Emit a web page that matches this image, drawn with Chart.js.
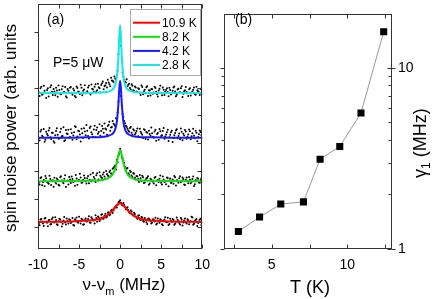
<!DOCTYPE html>
<html>
<head>
<meta charset="utf-8">
<script src="https://cdn.jsdelivr.net/npm/chart.js@4.4.1/dist/chart.umd.min.js"></script>
<style>
  html, body { margin: 0; padding: 0; background: #fff; }
  #wrap { position: relative; width: 436px; height: 299px; }
  .pane { position: absolute; top: 0; width: 218px; height: 299px; }
</style>
</head>
<body>
<div id="wrap">
  <div class="pane" style="left:0"><canvas id="chartA" width="218" height="299"></canvas></div>
  <div class="pane" style="left:218px"><canvas id="chartB" width="218" height="299"></canvas></div>
</div>
<script>
// ---- panel (a): spin noise spectra, offset vertically ----
const tempLabels = ['10.9 K', '8.2 K', '4.2 K', '2.8 K'];
const fitColors = ['#ff0000', '#11dd11', '#1a1aff', '#19e6e6'];

// frequency grids (MHz): -10..10 every 0.2, and the in-between points -9.9..9.9
const freq = [];
for (let i = 0; i <= 100; i++) freq.push(+(-10 + 0.2 * i).toFixed(1));
const freq2 = [];
for (let i = 0; i < 100; i++) freq2.push(+(-9.9 + 0.2 * i).toFixed(1));

const dots109 = [
  0.22,0.05,0.28,0.12,0.30,0.18,0.02,0.25,0.10,0.33,
  0.15,0.24,0.06,0.29,0.19,0.11,0.35,0.08,0.21,0.27,
  0.13,0.31,0.04,0.23,0.17,0.36,0.12,0.26,0.09,0.30,
  0.20,0.38,0.14,0.29,0.22,0.41,0.18,0.33,0.26,0.45,
  0.30,0.47,0.36,0.52,0.44,0.61,0.58,0.72,0.69,0.88,
  0.95,
  0.80,0.85,0.71,0.66,0.60,0.48,0.55,0.40,0.46,0.33,
  0.39,0.27,0.35,0.21,0.31,0.16,0.28,0.24,0.12,0.27,
  0.19,0.08,0.30,0.14,0.23,0.05,0.26,0.17,0.32,0.10,
  0.21,0.28,0.07,0.18,0.25,0.13,0.31,0.04,0.22,0.16,
  0.27,0.09,0.20,0.33,0.11,0.24,0.03,0.19,0.29,0.14
];
const dots109b = [
  0.11,0.26,0.19,0.03,0.31,0.14,0.23,0.08,0.28,0.17,
  0.34,0.09,0.20,0.26,0.01,0.22,0.15,0.30,0.12,0.24,
  0.18,0.06,0.27,0.33,0.14,0.21,0.29,0.07,0.24,0.19,
  0.28,0.15,0.34,0.24,0.12,0.31,0.37,0.21,0.43,0.29,
  0.39,0.33,0.50,0.41,0.57,0.49,0.66,0.74,0.79,0.91,
  0.86,0.76,0.79,0.63,0.70,0.52,0.58,0.44,0.50,0.37,
  0.29,0.41,0.23,0.33,0.18,0.26,0.10,0.30,0.20,0.15,
  0.25,0.32,0.12,0.20,0.27,0.09,0.22,0.34,0.16,0.06,
  0.29,0.17,0.24,0.11,0.33,0.20,0.08,0.26,0.15,0.30,
  0.12,0.23,0.18,0.36,0.07,0.21,0.28,0.13,0.25,0.06
];
const dots82 = [
  1.70,1.52,1.78,1.60,1.45,1.74,1.58,1.83,1.50,1.67,
  1.76,1.55,1.69,1.48,1.81,1.62,1.72,1.43,1.66,1.79,
  1.57,1.71,1.64,1.86,1.51,1.68,1.77,1.59,1.84,1.63,
  1.74,1.56,1.88,1.67,1.79,1.61,1.92,1.70,1.83,1.75,
  1.95,1.72,1.89,1.81,2.02,1.90,2.12,2.20,2.41,2.55,
  2.80,
  2.49,2.38,2.15,2.09,1.92,2.01,1.84,1.93,1.76,1.82,
  1.71,1.86,1.64,1.78,1.59,1.73,1.81,1.55,1.69,1.62,
  1.76,1.49,1.68,1.72,1.58,1.80,1.61,1.53,1.75,1.66,
  1.57,1.70,1.82,1.48,1.65,1.74,1.60,1.77,1.52,1.69,
  1.63,1.79,1.56,1.71,1.46,1.67,1.75,1.59,1.68,1.61
];
const dots82b = [
  1.58,1.75,1.49,1.68,1.82,1.61,1.54,1.71,1.65,1.44,
  1.62,1.73,1.51,1.78,1.66,1.56,1.85,1.64,1.52,1.70,
  1.80,1.60,1.47,1.73,1.66,1.90,1.58,1.69,1.75,1.55,
  1.82,1.69,1.63,1.93,1.72,1.85,1.66,1.96,1.78,1.88,
  1.80,2.00,1.84,1.97,1.91,2.08,2.15,2.06,2.32,2.62,
  2.70,2.45,2.30,2.02,2.11,1.88,1.97,1.79,1.90,1.70,
  1.80,1.61,1.74,1.83,1.57,1.68,1.76,1.51,1.72,1.64,
  1.55,1.79,1.66,1.60,1.84,1.52,1.70,1.63,1.77,1.45,
  1.73,1.62,1.54,1.78,1.67,1.58,1.81,1.64,1.71,1.50,
  1.77,1.56,1.69,1.62,1.80,1.53,1.65,1.72,1.58,1.74
];
const dots42 = [
  3.35,3.10,3.48,3.22,3.05,3.41,3.28,3.55,3.15,3.38,
  3.02,3.44,3.30,3.18,3.52,3.26,3.08,3.47,3.33,3.20,
  3.50,3.12,3.39,3.58,3.24,3.43,3.06,3.36,3.54,3.29,
  3.45,3.17,3.60,3.32,3.49,3.21,3.56,3.40,3.27,3.62,
  3.38,3.53,3.30,3.66,3.45,3.58,3.70,3.62,3.85,4.50,
  5.10,
  4.35,3.95,3.72,3.58,3.46,3.55,3.38,3.50,3.31,3.44,
  3.25,3.52,3.36,3.19,3.47,3.40,3.13,3.33,3.56,3.23,
  3.42,3.09,3.37,3.51,3.26,3.44,3.16,3.31,3.48,3.21,
  3.39,3.04,3.29,3.46,3.18,3.35,3.53,3.11,3.28,3.42,
  3.23,3.49,3.14,3.36,3.27,3.45,3.07,3.32,3.40,3.19
];
const dots42b = [
  3.18,3.42,3.27,3.51,3.12,3.33,3.46,3.21,3.38,3.07,
  3.29,3.54,3.16,3.40,3.25,3.57,3.11,3.35,3.48,3.22,
  3.37,3.28,3.61,3.14,3.45,3.31,3.52,3.19,3.42,3.65,
  3.26,3.55,3.39,3.23,3.63,3.47,3.34,3.68,3.44,3.52,
  3.71,3.49,3.62,3.77,3.56,3.80,3.66,3.90,4.10,4.85,
  4.70,4.05,3.80,3.63,3.52,3.41,3.58,3.30,3.46,3.37,
  3.53,3.22,3.41,3.30,3.50,3.15,3.38,3.45,3.27,3.36,
  3.20,3.48,3.33,3.12,3.43,3.29,3.55,3.24,3.39,3.08,
  3.30,3.45,3.19,3.37,3.50,3.26,3.14,3.41,3.34,3.47,
  3.16,3.31,3.43,3.25,3.52,3.18,3.38,3.22,3.46,3.29
];
const dots28 = [
  4.92,4.70,5.03,4.78,4.88,4.62,4.97,4.81,5.08,4.73,
  4.86,4.99,4.67,4.91,4.76,5.05,4.84,4.69,4.95,4.80,
  5.02,4.74,4.89,4.65,4.98,4.83,5.10,4.72,4.93,4.79,
  4.87,5.06,4.75,4.96,4.84,5.12,4.90,5.01,4.82,5.15,
  4.94,5.08,5.00,5.18,5.05,5.25,5.20,5.32,5.45,6.20,
  7.10,
  6.05,5.40,5.22,5.30,5.10,4.98,5.12,4.90,5.04,4.86,
  4.97,4.81,5.07,4.76,4.92,5.01,4.70,4.89,4.95,4.78,
  5.03,4.85,4.68,4.96,4.80,5.00,4.73,4.91,4.84,4.99,
  4.75,4.88,5.04,4.69,4.93,4.82,4.97,4.66,4.87,5.02,
  4.79,4.94,4.71,4.86,5.00,4.74,4.90,4.83,4.96,4.77
];
const dots28b = [
  4.83,4.97,4.74,5.06,4.80,4.91,4.68,5.01,4.85,4.95,
  4.72,4.89,5.07,4.78,4.94,4.83,5.02,4.64,4.88,4.99,
  4.81,4.96,4.70,5.04,4.86,4.77,4.99,4.88,5.08,4.82,
  5.00,4.79,5.11,4.93,5.03,4.86,5.14,4.97,5.09,5.22,
  5.05,5.16,5.28,5.12,5.35,5.24,5.40,5.30,5.60,6.70,
  6.50,5.55,5.28,5.18,5.05,5.14,4.93,5.06,4.88,5.00,
  4.84,4.95,4.73,5.02,4.87,4.79,5.05,4.90,4.71,4.94,
  4.82,4.98,4.76,4.89,5.06,4.72,4.92,4.85,4.97,4.69,
  4.91,4.80,5.00,4.86,4.74,4.96,4.83,5.05,4.78,4.90,
  4.84,4.70,4.97,4.81,4.92,4.76,5.03,4.87,4.73,4.93
];

// Lorentzian fit curves, sampled
const fitX = [-10,-6,-4,-3,-2,-1.5,-1,-0.8,-0.6,-0.4,-0.2,-0.1,0,0.1,0.2,0.4,0.6,0.8,1,1.5,2,3,4,6,10];
const fit109 = [0.17,0.19,0.22,0.25,0.34,0.43,0.56,0.63,0.70,0.77,0.82,0.835,0.84,0.835,0.82,0.77,0.70,0.63,0.56,0.43,0.34,0.25,0.22,0.19,0.17];
const fit82  = [1.63,1.64,1.65,1.66,1.69,1.74,1.85,1.94,2.08,2.30,2.58,2.69,2.73,2.69,2.58,2.30,2.08,1.94,1.85,1.74,1.69,1.66,1.65,1.64,1.63];
const fit42  = [3.20,3.20,3.21,3.21,3.23,3.26,3.32,3.38,3.50,3.77,4.44,4.96,5.24,4.96,4.44,3.77,3.50,3.38,3.32,3.26,3.23,3.21,3.21,3.20,3.20];
const fit28  = [4.80,4.80,4.80,4.81,4.83,4.85,4.91,4.97,5.09,5.37,6.13,6.82,7.24,6.82,6.13,5.37,5.09,4.97,4.91,4.85,4.83,4.81,4.80,4.80,4.80];

// ---- panel (b): gamma1 vs temperature ----
const tempK = [2.8, 4.2, 5.6, 7.1, 8.2, 9.5, 10.9, 12.4];
const gamma1 = [1.25, 1.50, 1.77, 1.82, 3.13, 3.68, 5.63, 15.8];

Chart.defaults.font.family = 'Arial, "Liberation Sans", sans-serif';
Chart.defaults.color = '#000';

const pts = (xs, ys) => xs.map((x, i) => ({ x: x, y: ys[i] }));

// frame + tick marks
const frameTicks = {
  id: 'frameTicks',
  afterDatasetsDraw(chart, args, o) {
    const { ctx, chartArea: a, scales } = chart;
    const L = Math.round(a.left) + 0.5, R = Math.round(a.right) - 0.5;
    const T = Math.round(a.top) + 0.5, B = Math.round(a.bottom) - 0.5;
    ctx.save();
    ctx.strokeStyle = '#333';
    ctx.lineWidth = 1;
    ctx.strokeRect(L, T, R - L, B - T);
    ctx.beginPath();
    o.xTicks.forEach(v => {
      const p = Math.round(scales.x.getPixelForValue(v)) + 0.5;
      ctx.moveTo(p, B); ctx.lineTo(p, B - 4);
      ctx.moveTo(p, T); ctx.lineTo(p, T + 4);
    });
    o.yTicks.forEach(v => {
      const p = Math.round(scales.y.getPixelForValue(v)) + 0.5;
      ctx.moveTo(L, p); ctx.lineTo(L - 4, p);
      ctx.moveTo(R, p); ctx.lineTo(R - 4, p);
    });
    (o.yMinor || []).forEach(v => {
      const p = Math.round(scales.y.getPixelForValue(v)) + 0.5;
      ctx.moveTo(L, p); ctx.lineTo(L - 3, p);
      ctx.moveTo(R, p); ctx.lineTo(R - 3, p);
    });
    (o.yMajorOut || []).forEach(v => {
      const p = Math.round(scales.y.getPixelForValue(v)) + 0.5;
      ctx.moveTo(R, p); ctx.lineTo(R + 4, p);
    });
    ctx.stroke();
    ctx.restore();
  }
};

// free texts (titles, panel labels, annotations)
const texts = {
  id: 'texts',
  afterDraw(chart, args, o) {
    const ctx = chart.ctx;
    ctx.save();
    ctx.fillStyle = '#000';
    o.items.forEach(it => {
      ctx.save();
      ctx.translate(it.x, it.y);
      if (it.rot) ctx.rotate(it.rot);
      ctx.textBaseline = 'alphabetic';
      ctx.textAlign = 'left';
      let total = 0;
      it.parts.forEach(p => { ctx.font = p.size + 'px Arial, "Liberation Sans", sans-serif'; total += ctx.measureText(p.t).width; });
      let cx = it.align === 'center' ? -total / 2 : 0;
      it.parts.forEach(p => {
        ctx.font = p.size + 'px Arial, "Liberation Sans", sans-serif';
        ctx.fillText(p.t, cx, p.dy || 0);
        cx += ctx.measureText(p.t).width;
      });
      ctx.restore();
    });
    ctx.restore();
  }
};

// legend box inside panel (a)
const boxLegend = {
  id: 'boxLegend',
  afterDraw(chart) {
    const ctx = chart.ctx;
    ctx.save();
    ctx.fillStyle = '#fff';
    ctx.fillRect(130.5, 9.5, 70, 66);
    ctx.strokeStyle = '#aaa';
    ctx.lineWidth = 1;
    ctx.strokeRect(130.5, 9.5, 70, 66);
    ctx.font = '12px Arial, "Liberation Sans", sans-serif';
    ctx.textBaseline = 'middle';
    tempLabels.forEach((lab, i) => {
      const y = 22.7 + 14.1 * i;
      ctx.strokeStyle = fitColors[i];
      ctx.lineWidth = 2;
      ctx.beginPath(); ctx.moveTo(133, y); ctx.lineTo(160, y); ctx.stroke();
      ctx.fillStyle = '#000';
      ctx.fillText(lab, 162, y + 0.5);
    });
    ctx.restore();
  }
};

const dotSets = [[dots109, dots109b], [dots82, dots82b], [dots42, dots42b], [dots28, dots28b]];
const fitSets = [fit109, fit82, fit42, fit28];
const dsA = [];
fitSets.forEach((f, i) => {
  dsA.push({
    type: 'line', data: pts(fitX, f), showLine: true, borderColor: fitColors[i],
    borderWidth: 2, pointRadius: 0, cubicInterpolationMode: 'monotone', order: 4 - i
  });
});
dotSets.forEach(pair => {
  [pts(freq, pair[0]), pts(freq2, pair[1])].forEach(d => {
    dsA.push({
      data: d, showLine: false, pointRadius: 1, pointBorderWidth: 0,
      backgroundColor: '#000', borderColor: '#000', order: 10
    });
  });
});

new Chart(document.getElementById('chartA'), {
  type: 'scatter',
  data: { datasets: dsA },
  options: {
    responsive: false, animation: false, events: [],
    layout: { padding: { left: 38, right: 15, top: 3, bottom: 0 } },
    plugins: {
      legend: { display: false }, tooltip: { enabled: false },
      frameTicks: { xTicks: [-10,-7.5,-5,-2.5,0,2.5,5,7.5,10], yTicks: [0,1,2,3,4,5,6,7] },
      texts: { items: [
        { x: 16, y: 232, rot: -Math.PI / 2, parts: [{ t: 'spin noise power (arb. units', size: 17 }] },
        { x: 124, y: 290, align: 'center', parts: [{ t: 'ν-ν', size: 17 }, { t: 'm', size: 11, dy: 5 }, { t: ' (MHz)', size: 17 }] },
        { x: 47, y: 24, parts: [{ t: '(a)', size: 14 }] },
        { x: 53, y: 67, parts: [{ t: 'P=5 μW', size: 14 }] }
      ] }
    },
    scales: {
      x: {
        type: 'linear', min: -10, max: 10,
        afterBuildTicks: s => { s.ticks = [-10, -5, 0, 5, 10].map(v => ({ value: v })); },
        afterFit: s => { s.height = 50; },
        grid: { display: false, drawTicks: false }, border: { display: false },
        ticks: { padding: 8, font: { size: 14 } }
      },
      y: { type: 'linear', min: -0.8, max: 8, display: false }
    }
  },
  plugins: [frameTicks, texts, boxLegend]
});

new Chart(document.getElementById('chartB'), {
  type: 'scatter',
  data: { datasets: [{
    data: pts(tempK, gamma1), showLine: true, borderColor: '#999', borderWidth: 1,
    tension: 0, pointStyle: 'rect', pointRadius: 5,
    pointBackgroundColor: '#000', pointBorderColor: '#000', pointBorderWidth: 0
  }] },
  options: {
    responsive: false, animation: false, events: [],
    layout: { padding: { left: 6, right: 0, top: 3, bottom: 0 } },
    plugins: {
      legend: { display: false }, tooltip: { enabled: false },
      frameTicks: { xTicks: [2.5, 5, 7.5, 10, 12.5], yTicks: [1, 10], yMinor: [2,3,4,5,6,7,8,9], yMajorOut: [1, 10] },
      texts: { items: [
        { x: 92, y: 293, align: 'center', parts: [{ t: 'T (K)', size: 18 }] },
        { x: 208, y: 178, rot: -Math.PI / 2, parts: [{ t: 'γ', size: 18 }, { t: '1', size: 12, dy: 4 }, { t: ' (MHz)', size: 18 }] },
        { x: 17, y: 24, parts: [{ t: '(b)', size: 14 }] }
      ] }
    },
    scales: {
      x: {
        type: 'linear', min: 1.85, max: 12.95,
        afterBuildTicks: s => { s.ticks = [5, 10].map(v => ({ value: v })); },
        afterFit: s => { s.height = 50; },
        grid: { display: false, drawTicks: false }, border: { display: false },
        ticks: { padding: 8, font: { size: 14 } }
      },
      y: {
        type: 'logarithmic', position: 'right', min: 1, max: 19.7,
        afterBuildTicks: s => { s.ticks = [1, 10].map(v => ({ value: v })); },
        afterFit: s => { s.width = 44; },
        grid: { display: false, drawTicks: false }, border: { display: false },
        ticks: { padding: 6, font: { size: 14 }, callback: v => String(v) }
      }
    }
  },
  plugins: [frameTicks, texts]
});
</script>
</body>
</html>
